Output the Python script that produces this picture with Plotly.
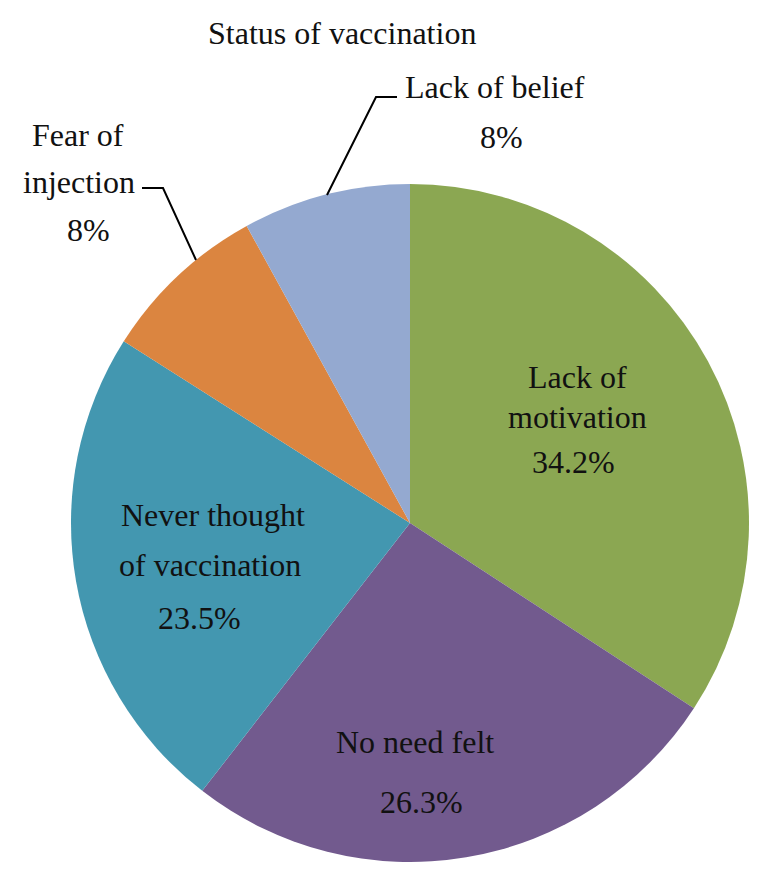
import plotly.graph_objects as go

# page body has an 8px margin, so the figure is drawn 8px in from the window edge
OFF = 8
W, H = 769 - OFF, 881 - OFF

# data
reasons = ["Lack of motivation", "No need felt", "Never thought of vaccination",
           "Fear of injection", "Lack of belief"]
shares = [34.2, 26.3, 23.5, 8, 8]
share_labels = ["34.2%", "26.3%", "23.5%", "8%", "8%"]
label_lines = [["Lack of", "motivation"], ["No need felt"], ["Never thought", "of vaccination"],
               ["Fear of", "injection"], ["Lack of belief"]]
colors = ["#8BA752", "#725A8E", "#4397B0", "#DB8540", "#94A9D0"]

# window-pixel centres for each text line (name lines, then percent line)
label_pos = [
    [(577, 377), (577, 417), (573, 462)],
    [(415, 742), (421, 802)],
    [(213, 515), (210, 565), (200, 618)],
    [(78, 135), (79, 182), (88, 230)],
    [(495, 87), (501, 137)],
]
# leader lines for the small slices (window pixels)
leaders = [
    [(142, 188), (163, 188), (196, 260)],
    [(397, 97), (376, 97), (327, 195)],
]

FONT = "Liberation Serif"


def px(x, y):
    return (x - OFF) / W, 1 - (y - OFF) / H


fig = go.Figure()
x0, y1 = px(71, 184)
x1, y0 = px(749, 862)
fig.add_trace(go.Pie(
    labels=reasons, values=shares, sort=False, direction="clockwise", rotation=0,
    marker=dict(colors=colors, line=dict(width=0)),
    textinfo="none", hoverinfo="label+percent", showlegend=False,
    domain=dict(x=[x0, x1], y=[y0, y1]),
))

annotations = []
for lines, pct, pos in zip(label_lines, share_labels, label_pos):
    for txt, (x, y) in zip(lines + [pct], pos):
        ax, ay = px(x, y)
        annotations.append(dict(x=ax, y=ay, xref="paper", yref="paper", text=txt,
                                showarrow=False, xanchor="center", yanchor="middle",
                                font=dict(family=FONT, size=32, color="#111111")))

tx, ty = px(342, 33)
annotations.append(dict(x=tx, y=ty, xref="paper", yref="paper", text="Status of vaccination",
                        showarrow=False, xanchor="center", yanchor="middle",
                        font=dict(family=FONT, size=32, color="#111111")))

shapes = []
for pts in leaders:
    p = [px(x, y) for x, y in pts]
    path = "M {} {} L {} {} L {} {}".format(p[0][0], p[0][1], p[1][0], p[1][1], p[2][0], p[2][1])
    shapes.append(dict(type="path", path=path, xref="paper", yref="paper",
                       line=dict(color="black", width=2)))

fig.update_layout(
    width=W, height=H,
    margin=dict(l=0, r=0, t=0, b=0),
    font=dict(family=FONT),
    paper_bgcolor="white", plot_bgcolor="white",
    annotations=annotations, shapes=shapes,
)

fig.write_html("out.html")
